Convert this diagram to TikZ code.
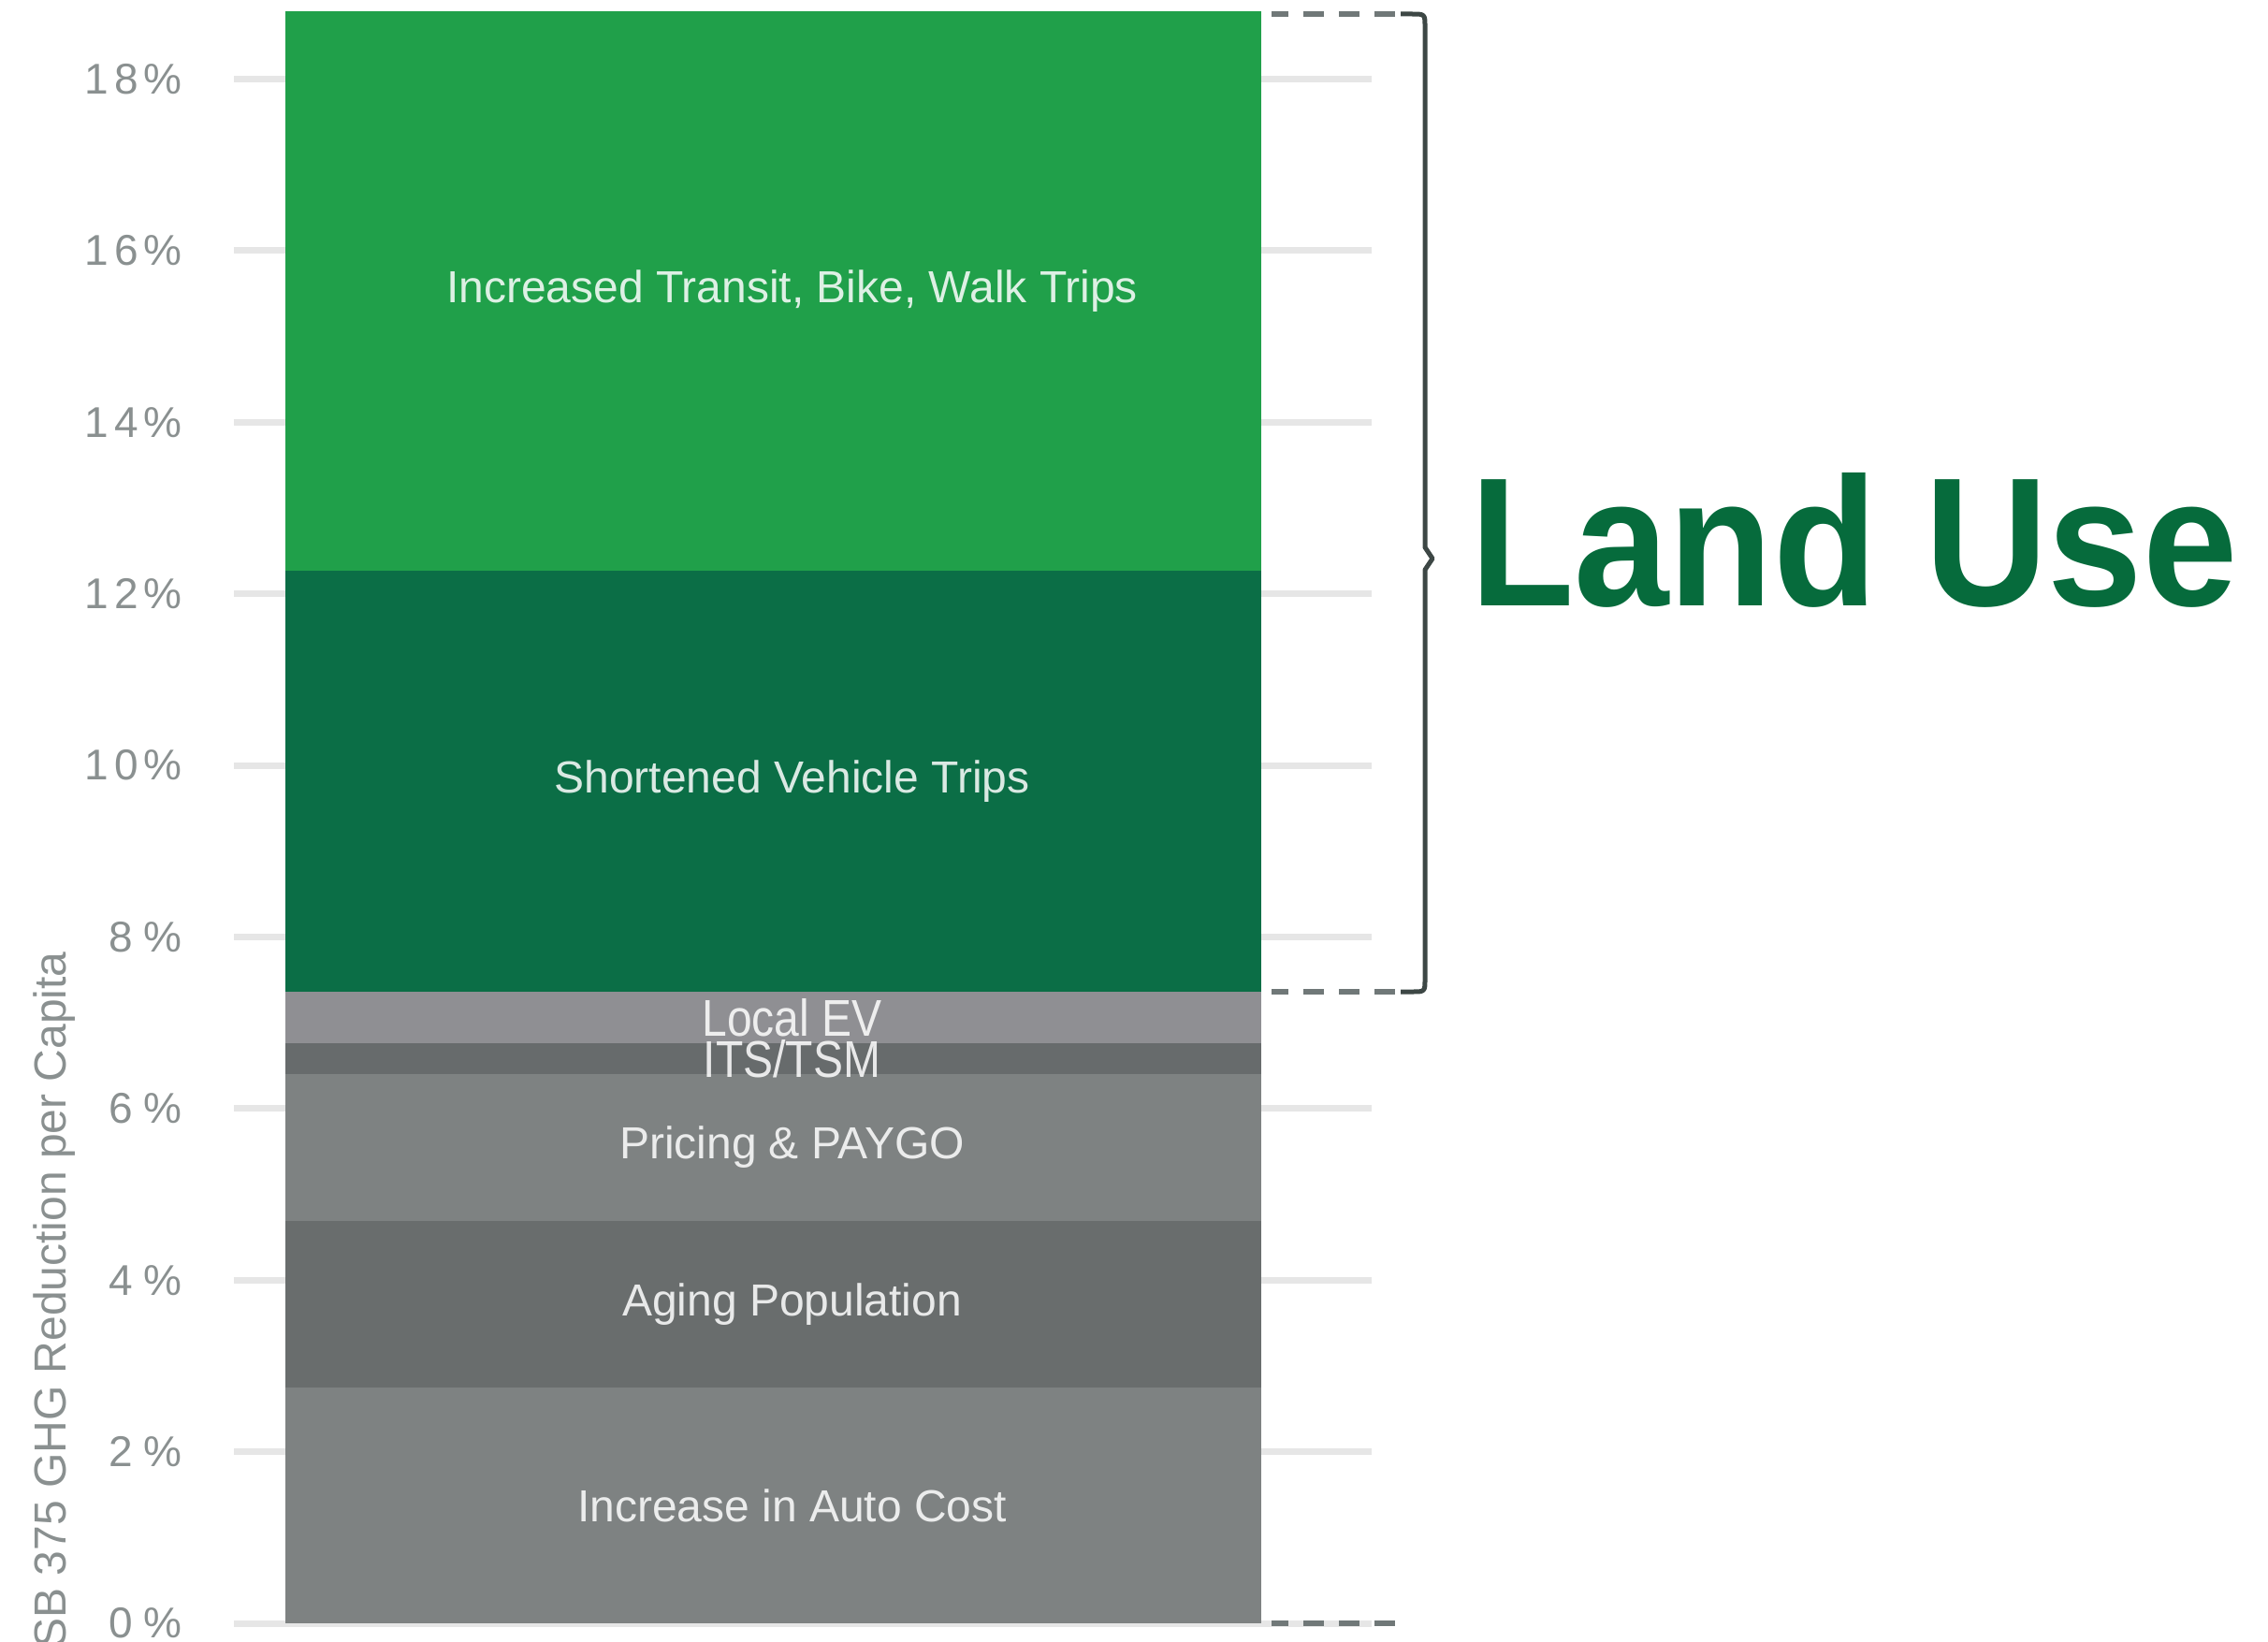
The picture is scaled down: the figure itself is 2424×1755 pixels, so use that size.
\documentclass[tikz,border=0pt]{standalone}
\usepackage{fontspec}
\setmainfont{Liberation Sans}
\newfontfamily\landfont{Liberation Sans}[FakeStretch=0.93]
\definecolor{cTransit}{RGB}{32,160,74}
\definecolor{cShort}{RGB}{11,110,70}
\definecolor{cEV}{RGB}{143,143,147}
\definecolor{cITS}{RGB}{103,107,108}
\definecolor{cPricing}{RGB}{126,130,130}
\definecolor{cAging}{RGB}{105,109,109}
\definecolor{cAuto}{RGB}{126,130,130}
\definecolor{cGrid}{RGB}{230,230,230}
\definecolor{cTick}{RGB}{138,144,144}
\definecolor{cDash}{RGB}{112,120,120}
\definecolor{cBrace}{RGB}{61,71,69}
\definecolor{cLand}{RGB}{6,107,60}
\tikzset{
  gridline/.style={draw=cGrid, line width=7pt},
  tick/.style={anchor=east, inner sep=0pt, text=cTick, font=\fontsize{46}{48}\selectfont},
  seg/.style={rectangle, inner sep=0pt, draw=none, minimum width=1043pt},
  lbl/.style={inner sep=0pt, text=white, text opacity=0.85, font=\fontsize{48}{50}\selectfont},
  dashline/.style={draw=cDash, line width=6pt, dash pattern=on 22pt off 16pt, dash phase=4pt},
  bracepath/.style={draw=cBrace, line width=5pt, line join=round},
  ylab/.style={inner sep=0pt, text=cTick, font=\fontsize{48}{50}\selectfont}
}
\begin{document}
\begin{tikzpicture}[x=1pt,y=-1pt]
\fill[white] (0,0) rectangle (2424,1755);
\useasboundingbox (0,0) rectangle (2424,1755);
% grid lines and tick labels
\foreach \v/\yy/\txt in {0/1735/{0\kern12pt\%},2/1551.6/{2\kern12pt\%},4/1368.2/{4\kern12pt\%},6/1184.8/{6\kern12pt\%},8/1001.4/{8\kern12pt\%},10/818/{1\kern6pt0\kern6pt\%},12/634.6/{1\kern6pt2\kern6pt\%},14/451.2/{1\kern6pt4\kern6pt\%},16/267.8/{1\kern6pt6\kern6pt\%},18/84.4/{1\kern6pt8\kern6pt\%}}{
  \coordinate (gl\v) at (250,\yy);
  \coordinate (gr\v) at (1466,\yy);
  \draw[gridline] (gl\v) -- (gr\v);
  \node[tick] (t\v) at (195,\yy) {\txt};
}
% stacked bar
\node[seg, fill=cTransit, minimum height=598pt] (transit) at (826.5,311) {};
\node[seg, fill=cShort, minimum height=450pt] (short) at (826.5,835) {};
\node[seg, fill=cEV, minimum height=55pt] (ev) at (826.5,1087.5) {};
\node[seg, fill=cITS, minimum height=33pt] (its) at (826.5,1131.5) {};
\node[seg, fill=cPricing, minimum height=157pt] (pricing) at (826.5,1226.5) {};
\node[seg, fill=cAging, minimum height=178pt] (aging) at (826.5,1394) {};
\node[seg, fill=cAuto, minimum height=252pt] (auto) at (826.5,1609) {};
% labels
\node[lbl, xshift=20pt] (ltransit) at (transit.center) {Increased Transit, Bike, Walk Trips};
\node[lbl, xshift=20pt] (lshort) at (short.center) {Shortened Vehicle Trips};
\node[lbl, xshift=20pt] (lev) at (ev.center) {\scalebox{1}[1.15]{Local EV}};
\node[lbl, xshift=20pt] (lits) at (its.center) {\scalebox{1}[1.15]{ITS/TSM}};
\node[lbl, xshift=20pt] (lpricing) at (pricing.center) {Pricing \& PAYGO};
\node[lbl, xshift=20pt] (laging) at (aging.center) {Aging Population};
\node[lbl, xshift=20pt] (lauto) at (auto.center) {Increase in Auto Cost};
% axis title
\node[ylab, rotate=90, anchor=base east] (ylabel) at (70,1017) {SB 375 GHG Reduction per Capita};
% dashed guides and brace
\coordinate (dt0) at (1359,15);
\coordinate (bt) at (1497,15);
\coordinate (db0) at (1359,1060);
\coordinate (bb) at (1497,1060);
\coordinate (dz0) at (1359,1735);
\coordinate (dz1) at (1493,1735);
\draw[dashline] (dt0) -- (bt);
\draw[dashline] (db0) -- (bb);
\draw[dashline] (dz0) -- (dz1);
\draw[bracepath] (bt) -- (1509,15) .. controls (1523,15) .. (1523,29) -- (1523,585) -- (1531,597) -- (1523,609) -- (1523,1046) .. controls (1523,1060) .. (1509,1060) -- (bb);
% Land Use
\node[anchor=base west, inner sep=0pt, text=cLand, font=\landfont\bfseries\fontsize{196}{200}\selectfont] (landuse) at (1571,647) {Land Use};
\end{tikzpicture}
\end{document}
